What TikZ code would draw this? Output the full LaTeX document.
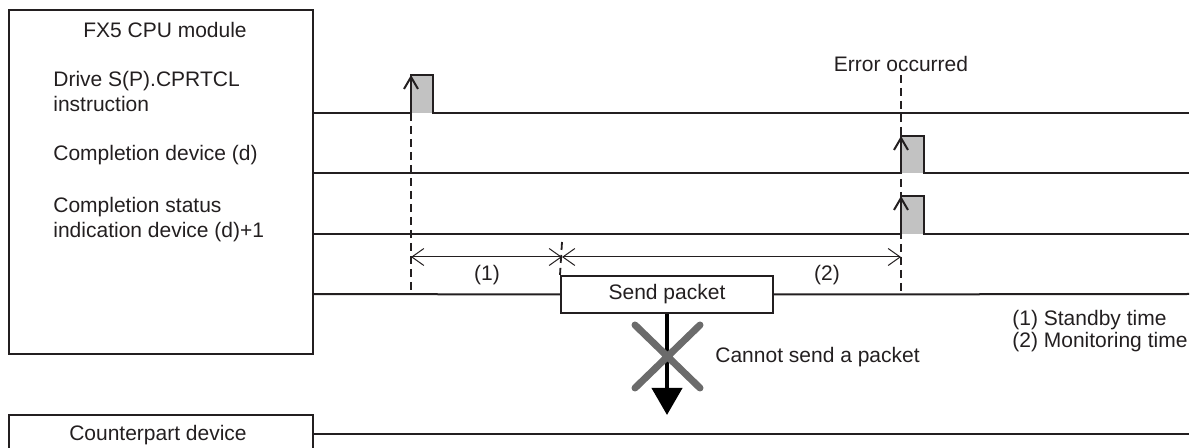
\documentclass[tikz,border=0pt]{standalone}
\usepackage{fontspec}
\setmainfont{Liberation Sans}
\usetikzlibrary{arrows.meta,positioning,calc}
\definecolor{inkgray}{HTML}{231F20}
\definecolor{pulsegray}{HTML}{C2C2C2}
\definecolor{crossgray}{HTML}{6B6B6B}
\tikzset{
  unitbox/.style={draw=inkgray,line width=1.4pt},
  signal/.style={draw=inkgray,line width=1pt},
  guide/.style={draw=inkgray,line width=.9pt,dash pattern=on 4pt off 2.5pt},
  dimline/.style={{Straight Barb[length=6pt,width=8.5pt]}-{Straight Barb[length=6pt,width=8.5pt]},draw=inkgray,line width=.5pt},
  rise/.style={-{Straight Barb[length=6pt,width=7pt]},draw=inkgray,line width=1pt},
  lbl/.style={text=inkgray,font=\fontsize{10.5}{12.5}\selectfont,inner sep=0pt,align=left},
  packet/.style={draw=inkgray,fill=white,line width=1pt,minimum width=106pt,minimum height=18.5pt,inner sep=0pt,text=inkgray,font=\fontsize{10.5}{12.5}\selectfont},
  drop/.style={draw=black,line width=2pt,-{Triangle[length=13.5pt,width=15pt]}},
  cross/.style={draw=crossgray,line width=3.5pt,line cap=round},
}

\begin{document}
\begin{tikzpicture}[x=.5pt,y=-.5pt]
    \useasboundingbox (0,0) rectangle (1194,448);
    % module boxes
    \draw[unitbox] (9,10) rectangle (313,354);
    \draw[unitbox] (9,460) -- (9,415) -- (313,415) -- (313,460);
    \node[lbl] (cpu) at (165,30) {FX5 CPU module};
    \node[lbl,anchor=west] (drv) at (53,91.5) {Drive S(P).CPRTCL\\instruction};
    \node[lbl,anchor=west] (cmp) at (53,155) {Completion device (d)};
    \node[lbl,anchor=west] (sts) at (53,220) {Completion status\\indication device (d)+1};
    \node[lbl] (cpd) at (158,435) {Counterpart device};
    % pulses
    \fill[pulsegray] (411,75) rectangle (433,113);
    \fill[pulsegray] (901,136) rectangle (924,173);
    \fill[pulsegray] (901,196) rectangle (924,234);
    \draw[signal] (313,113) -- (411,113) -- (411,75) -- (433,75) -- (433,113) -- (1189,113);
    \draw[signal] (313,173) -- (901,173) -- (901,136) -- (924,136) -- (924,173) -- (1189,173);
    \draw[signal] (313,234) -- (901,234) -- (901,196) -- (924,196) -- (924,234) -- (1189,234);
    \draw[rise] (411,113) -- (411,75);
    \draw[rise] (901,173) -- (901,136);
    \draw[rise] (901,234) -- (901,196);
    % send line
    \node[packet] (pk) at (667,294.5) {Send packet};
    \draw[signal] (313,294) -- (pk.west);
    \draw[signal] (pk.east) -- (1189,294);
    \draw[signal] (313,434) -- (1189,434);
    % timing guides
    \coordinate (t1) at (411,257);
    \coordinate (t2) at (562,257);
    \coordinate (t3) at (901,257);
    \draw[guide] (411,113) -- (411,294);
    \draw[guide] (901,75) -- (901,294);
    \draw[guide] (562,242) -- (pk.north west);
    \draw[dimline] (t1) -- (t2);
    \draw[dimline] (t2) -- (t3);
    \node[lbl] (n1) at (487,275) {(1)};
    \node[lbl] (n2) at (827,275) {(2)};
    \node[lbl] (err) at (901,64) {Error occurred};
    % failed transfer
    \coordinate (hit) at (667,415);
    \draw[drop] (pk.south) -- (hit);
    \draw[cross] (635,325) -- (700,388) (700,325) -- (635,388);
    \node[lbl,anchor=west] (nosend) at (715,357) {Cannot send a packet};
    \node[lbl,anchor=west] (std) at (1012,320) {(1) Standby time};
    \node[lbl,anchor=west] (mon) at (1012,342) {(2) Monitoring time};
  \end{tikzpicture}
\end{document}
